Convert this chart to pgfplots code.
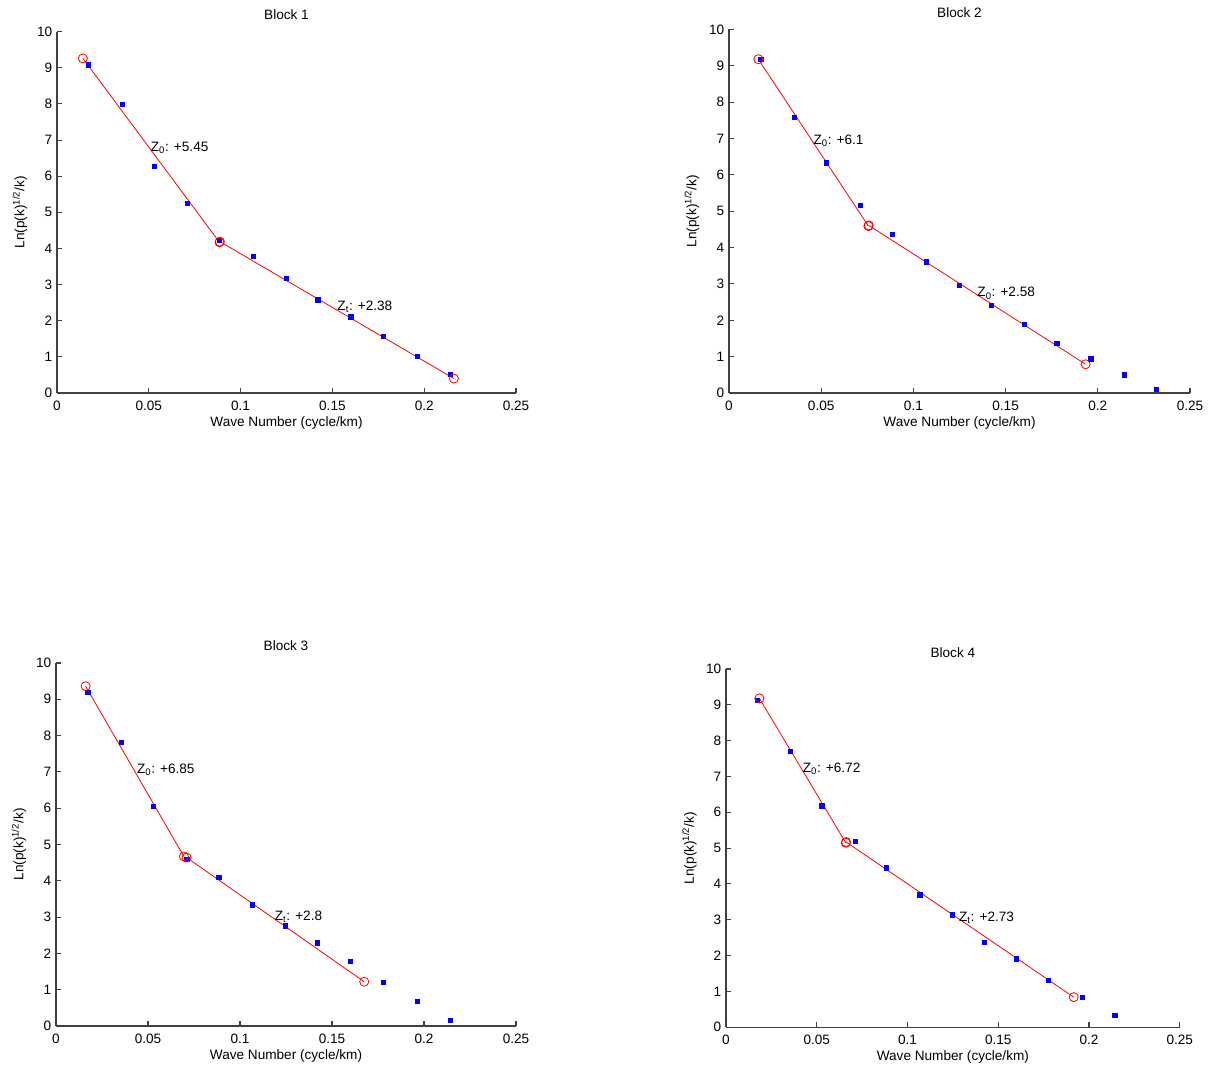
\documentclass[border=0pt]{standalone}
\usepackage{fontspec}
\setmainfont{Liberation Sans}
\usepackage{pgfplots}
\pgfplotsset{compat=1.18}

% shared look of the four MATLAB-style panels
\pgfplotsset{
  blk/.style={
    scale only axis,
    anchor=south west,
    axis lines=left,
    axis line style={-, black!75, line width=0.8pt},
    xmin=0, xmax=0.25, ymin=0, ymax=10,
    xtick={0,0.05,0.1,0.15,0.2,0.25},
    xticklabels={0,0.05,0.1,0.15,0.2,0.25},
    ytick={0,1,...,10},
    tick align=inside,
    major tick length=3.75pt,
    tick style={black!75, line width=0.8pt},
    font=\fontsize{10.2}{12}\selectfont,
    /pgf/number format/assume math mode=true,
    xticklabel style={yshift=-2.5pt},
    every axis title shift=0pt,
    title style={at={(axis description cs:0.5,1.047)}, anchor=center},
    xlabel={Wave Number (cycle/km)},
    ylabel={Ln(p(k)\textsuperscript{1/2}/k)},
    xlabel style={at={(axis description cs:0.5,-0.083)}, anchor=center},
    ylabel style={at={(axis description cs:-0.0806,0.5)}, anchor=center},
    clip=false,
  },
  pts/.style={only marks, mark=square*, mark size=1.6pt, color=blue},
  fit/.style={red, line width=0.6pt, mark=o, mark size=3.4pt,
              mark options={line width=0.6pt, solid}},
}
\tikzset{ann/.style={anchor=base west, inner sep=0pt, font=\fontsize{10.2}{12}\selectfont}}

\begin{document}
\begin{tikzpicture}
\path[use as bounding box] (0,0) rectangle (908.25pt,801.75pt);

% Block 1
\begin{axis}[blk, at={(42.75pt,507pt)}, width=344.25pt, height=271pt, title={Block 1}]
\addplot[pts] coordinates {
  (0.0172,9.08) (0.0355,7.99) (0.0528,6.27) (0.0711,5.25) (0.0885,4.23)
  (0.1068,3.78) (0.1247,3.17) (0.1421,2.58) (0.1600,2.11) (0.1777,1.56)
  (0.1962,1.02) (0.2142,0.51)
};
\addplot[fit] coordinates {(0.0141,9.26) (0.0885,4.17)};
\addplot[fit] coordinates {(0.0887,4.19) (0.2162,0.40)};
\node[ann] at (axis cs:0.051,6.68) {Z\textsubscript{0}: +5.45};
\node[ann] at (axis cs:0.1526,2.27) {Z\textsubscript{t}: +2.38};
\end{axis}

% Block 2
\begin{axis}[blk, at={(546.75pt,507pt)}, width=345.75pt, height=272.7pt, title={Block 2}]
\addplot[pts] coordinates {
  (0.0172,9.17) (0.0355,7.58) (0.0528,6.33) (0.0711,5.16) (0.0885,4.36)
  (0.1068,3.61) (0.1247,2.97) (0.1421,2.41) (0.1600,1.89) (0.1777,1.36)
  (0.1962,0.94) (0.2142,0.50) (0.2319,0.10)
};
\addplot[fit] coordinates {(0.0159,9.18) (0.0756,4.59)};
\addplot[fit] coordinates {(0.0758,4.61) (0.1934,0.79)};
\node[ann] at (axis cs:0.0457,6.83) {Z\textsubscript{0}: +6.1};
\node[ann] at (axis cs:0.1346,2.64) {Z\textsubscript{0}: +2.58};
\end{axis}

% Block 3
\begin{axis}[blk, at={(42pt,32.25pt)}, width=345pt, height=272.25pt, title={Block 3}]
\addplot[pts] coordinates {
  (0.0172,9.20) (0.0355,7.81) (0.0528,6.06) (0.0711,4.59) (0.0885,4.10)
  (0.1068,3.34) (0.1247,2.76) (0.1421,2.29) (0.1600,1.79) (0.1777,1.21)
  (0.1962,0.68) (0.2142,0.16)
};
\addplot[fit] coordinates {(0.0161,9.36) (0.0695,4.67)};
\addplot[fit] coordinates {(0.0710,4.64) (0.1675,1.22)};
\node[ann] at (axis cs:0.0439,6.96) {Z\textsubscript{0}: +6.85};
\node[ann] at (axis cs:0.1188,2.91) {Z\textsubscript{t}: +2.8};
\end{axis}

% Block 4
\begin{axis}[blk, at={(544.5pt,31.3pt)}, width=340.3pt, height=268.7pt, title={Block 4}]
\addplot[pts] coordinates {
  (0.0172,9.12) (0.0355,7.70) (0.0528,6.18) (0.0711,5.19) (0.0885,4.45)
  (0.1068,3.70) (0.1247,3.14) (0.1421,2.38) (0.1600,1.91) (0.1777,1.32)
  (0.1962,0.83) (0.2142,0.33)
};
\addplot[fit] coordinates {(0.0184,9.18) (0.0660,5.15)};
\addplot[fit] coordinates {(0.0662,5.17) (0.1916,0.84)};
\node[ann] at (axis cs:0.0422,7.12) {Z\textsubscript{0}: +6.72};
\node[ann] at (axis cs:0.1283,2.95) {Z\textsubscript{t}: +2.73};
\end{axis}
\end{tikzpicture}
\end{document}
